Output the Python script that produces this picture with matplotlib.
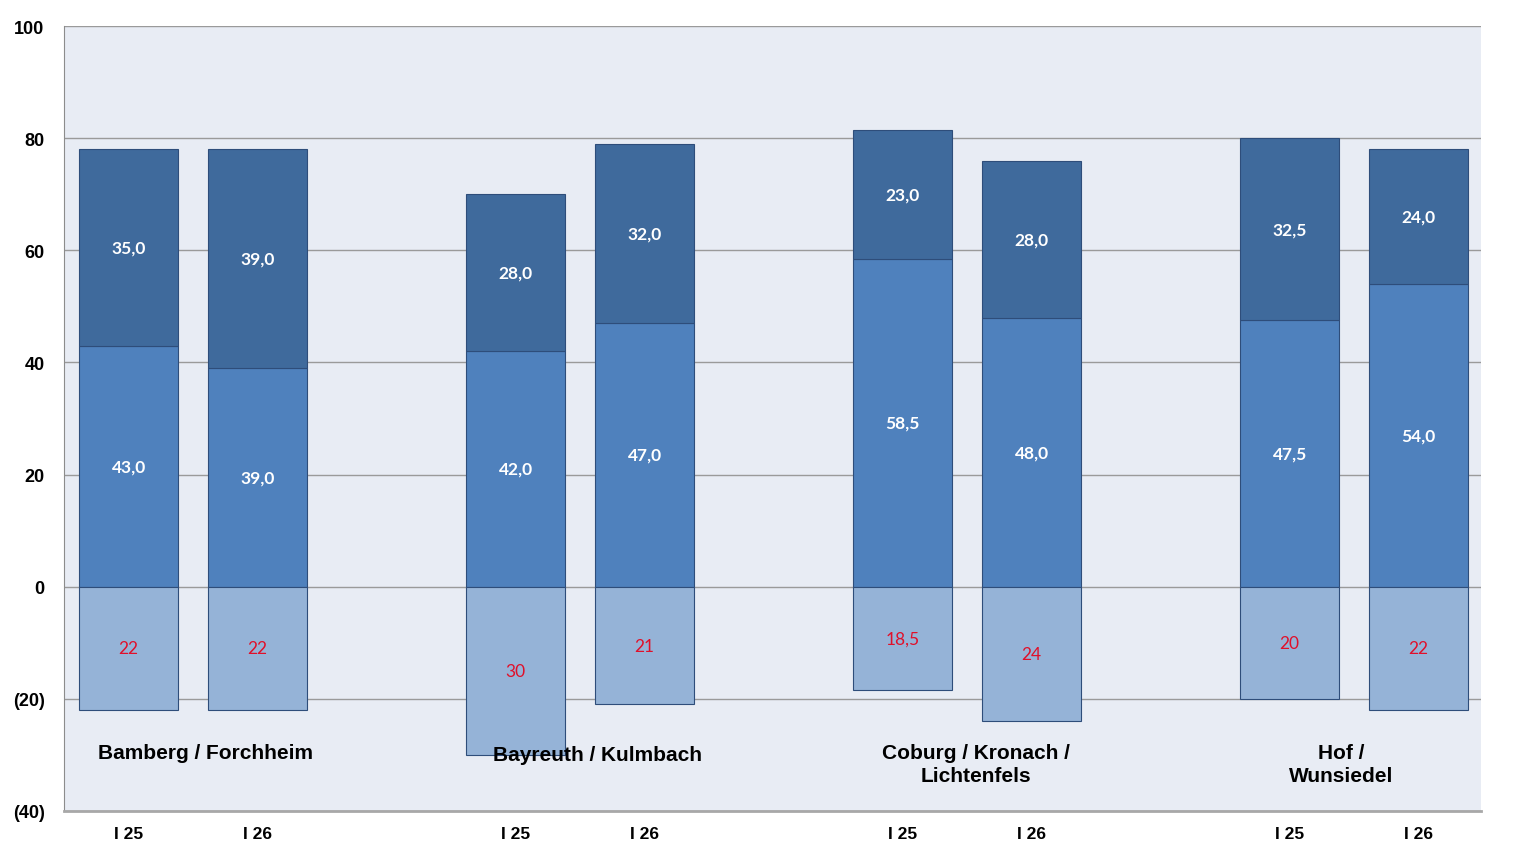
import matplotlib
matplotlib.use("Agg")
import matplotlib.pyplot as plt
import numpy as np

# ---- data ----
groups = ["Bamberg / Forchheim", "Bayreuth / Kulmbach", "Coburg / Kronach /\nLichtenfels", "Hof /\nWunsiedel"]
periods = ["I 25", "I 26"]
mid_vals = [43.0, 39.0, 42.0, 47.0, 58.5, 48.0, 47.5, 54.0]
top_vals = [35.0, 39.0, 28.0, 32.0, 23.0, 28.0, 32.5, 24.0]
neg_vals = [22, 22, 30, 21, 18.5, 24, 20, 22]
yticks = [100, 80, 60, 40, 20, 0, -20, -40]
ytick_labels = ["100", "80", "60", "40", "20", "0", "(20)", "(40)"]

def fmt1(v):
    return f"{v:.1f}".replace(".", ",")

def fmtn(v):
    return (f"{v:g}").replace(".", ",")

# ---- styles ----
c_top = "#3F6A9C"
c_mid = "#4F81BD"
c_neg = "#95B3D7"
c_edge = "#2E4D7A"
bg = "#E8ECF4"

fig = plt.figure(figsize=(15.2, 8.53), dpi=100)
ax = fig.add_axes([64/1520, 41/853, (1481-64)/1520, (812-27)/853])
ax.set_facecolor(bg)

x = []
for gi in range(len(groups)):
    for pj in range(len(periods)):
        x.append(1 + 3*gi + pj)
x = np.array(x, dtype=float)
w = 99/129

mid = np.array(mid_vals)
top = np.array(top_vals)
neg = -np.array(neg_vals, dtype=float)

ax.bar(x, mid, width=w, color=c_mid, edgecolor=c_edge, linewidth=0.8, zorder=3)
ax.bar(x, top, width=w, bottom=mid, color=c_top, edgecolor=c_edge, linewidth=0.8, zorder=3)
ax.bar(x, neg, width=w, color=c_neg, edgecolor=c_edge, linewidth=0.8, zorder=3)
for xi, m, t, n in zip(x, mid, top, neg):
    ax.text(xi, m + t/2, fmt1(t), ha="center", va="center", color="white",
            fontsize=12.5, fontweight="bold", family=["Lato", "DejaVu Sans"], zorder=4)
    ax.text(xi, m/2, fmt1(m), ha="center", va="center", color="white",
            fontsize=12.5, fontweight="bold", family=["Lato", "DejaVu Sans"], zorder=4)
    ax.text(xi, n/2, fmtn(-n), ha="center", va="center", color="#E0102A",
            fontsize=12.5, family=["Lato", "DejaVu Sans"], zorder=4)

ax.set_xlim((64-129)/129 + 1 + 0.003, (1481-129)/129 + 1 + 0.003)
ax.set_ylim(-40, 100)
ax.set_yticks(yticks)
ax.set_yticklabels(ytick_labels, fontsize=13, fontweight="bold", family="Liberation Sans")
ax.set_xticks(x)
ax.set_xticklabels([periods[i % 2] for i in range(len(x))], fontsize=12.5,
                   fontweight="bold", family="Liberation Sans")
ax.tick_params(axis="x", length=0, pad=11)
ax.tick_params(axis="y", length=0, pad=14)
ax.yaxis.grid(True, color="#9A9A9A", linewidth=1.0, zorder=0)
ax.set_axisbelow(True)
for s in ["top", "right"]:
    ax.spines[s].set_visible(False)
ax.spines["left"].set_color("#8C8C8C")
ax.spines["bottom"].set_color("#A8A8A8")
ax.spines["bottom"].set_linewidth(2)

# group labels (pixel-measured centers)
label_pos = [(206, -29.6), (598, -29.9), (976, -31.6), (1342, -31.6)]
for g, (px, yv) in zip(groups, label_pos):
    xv = (px - 129)/129 + 1
    ax.text(xv, yv, g, ha="center", va="center", fontsize=15, fontweight="bold",
            family="Liberation Sans", linespacing=1.3, zorder=5)

fig.savefig("out.png", dpi=100)
